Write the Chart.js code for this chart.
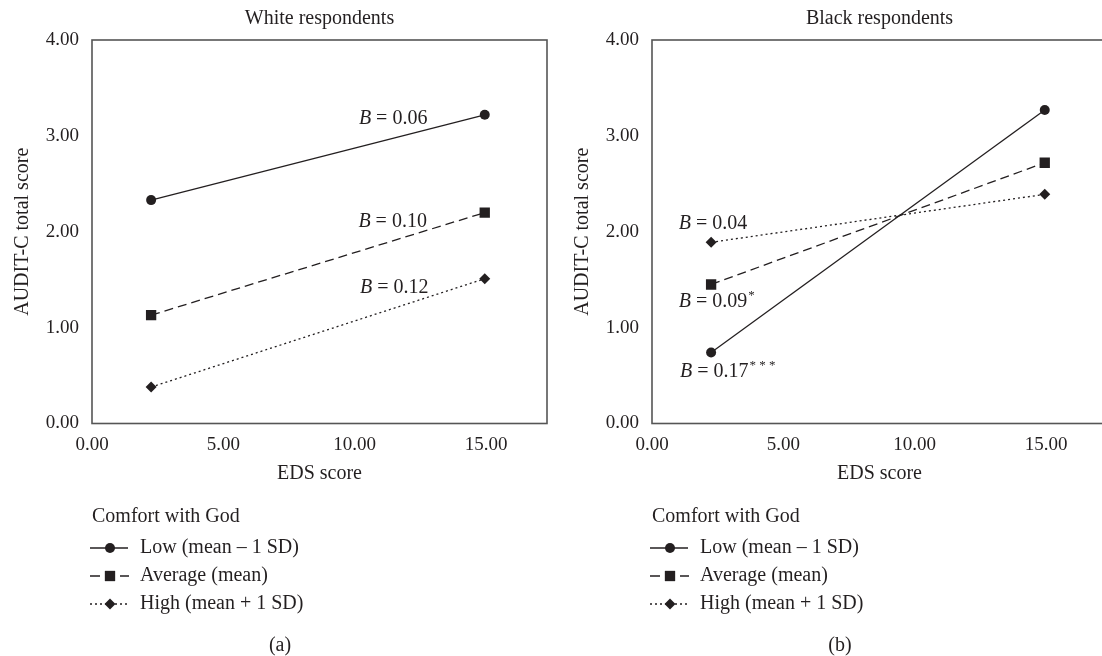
<!DOCTYPE html>
<html><head><meta charset="utf-8">
<script src="https://cdn.jsdelivr.net/npm/chart.js@4.4.1/dist/chart.umd.min.js"></script>
<style>
html,body{margin:0;padding:0;background:#fff;overflow:hidden;}
#wrap{position:relative;width:1102px;height:656px;overflow:hidden;background:#fff;}
canvas{position:absolute;top:0;}
</style></head><body>
<div id="wrap">
<canvas id="cA" width="560" height="656" style="left:0"></canvas>
<canvas id="cB" width="560" height="656" style="left:560px"></canvas>
</div>
<script>
// ---------- data ----------
const edsPoints = [2.25, 14.95];
const seriesNames = ['Low (mean \u2013 1 SD)', 'Average (mean)', 'High (mean + 1 SD)'];
const whiteLow = [2.33, 3.22];
const whiteAverage = [1.13, 2.20];
const whiteHigh = [0.38, 1.51];
const blackLow = [0.74, 3.27];
const blackAverage = [1.45, 2.72];
const blackHigh = [1.89, 2.39];
const xTickValues = [0, 5, 10, 15];
const yTickValues = [0, 1, 2, 3, 4];
const whiteSlopes = ['0.06', '0.10', '0.12'];
const whiteStars = ['', '', ''];
const blackSlopes = ['0.04', '0.09', '0.17'];
const blackStars = ['', '*', '* * *'];

// ---------- style / layout ----------
const FONT = '"Liberation Serif", "Times New Roman", serif';
const INK = '#231f20';
const FRAME = '#555555';
const X_MAX = 17.32;
const seriesStyles = [
  {dash: [], point: 'circle', radius: 5},
  {dash: [9, 5], point: 'rect', radius: 7.3},
  {dash: [2, 3], point: 'rectRot', radius: 5.5}
];
// label anchors in data units (left edge, vertical middle)
const whiteLabelPos = [[10.16, 3.18], [10.14, 2.10], [10.2, 1.42]];
const blackLabelPos = [[1.02, 2.085], [1.02, 1.27], [1.07, 0.54]];

function makeDatasets(vals) {
  return vals.map((v, i) => ({
    label: seriesNames[i],
    data: edsPoints.map((x, j) => ({x: x, y: v[j]})),
    borderColor: INK,
    borderWidth: 1.3,
    borderDash: seriesStyles[i].dash,
    pointStyle: seriesStyles[i].point,
    pointRadius: seriesStyles[i].radius,
    pointHoverRadius: seriesStyles[i].radius,
    pointBackgroundColor: INK,
    pointBorderWidth: 0,
    fill: false,
    tension: 0
  }));
}

function drawB(ctx, x, y, val, stars) {
  ctx.save();
  ctx.fillStyle = INK;
  ctx.textBaseline = 'middle';
  ctx.textAlign = 'left';
  ctx.font = 'italic 20px ' + FONT;
  ctx.fillText('B', x, y);
  let w = ctx.measureText('B').width;
  ctx.font = '20px ' + FONT;
  const s = ' = ' + val;
  ctx.fillText(s, x + w, y);
  w += ctx.measureText(s).width;
  if (stars) {
    ctx.font = '13px ' + FONT;
    ctx.fillText(stars, x + w + 1, y - 6);
  }
  ctx.restore();
}

function decorPlugin(slopes, stars, labelPos, caption) {
  return {
    id: 'decor',
    beforeDatasetsDraw(chart) {
      const {ctx, chartArea: a} = chart;
      ctx.save();
      ctx.strokeStyle = FRAME;
      ctx.lineWidth = 1.6;
      ctx.strokeRect(a.left, a.top, a.right - a.left, a.bottom - a.top);
      ctx.restore();
    },
    afterDatasetsDraw(chart) {
      const {ctx, scales} = chart;
      labelPos.forEach((p, i) => {
        drawB(ctx, scales.x.getPixelForValue(p[0]), scales.y.getPixelForValue(p[1]), slopes[i], stars[i]);
      });
    },
    afterDraw(chart) {
      const {ctx, chartArea: a} = chart;
      const lx = a.left;
      ctx.save();
      ctx.fillStyle = INK;
      ctx.textBaseline = 'middle';
      ctx.textAlign = 'left';
      ctx.font = '20px ' + FONT;
      ctx.fillText('Comfort with God', lx, 517);
      const rows = [548, 576, 604];
      chart.data.datasets.forEach((ds, i) => {
        const y = rows[i];
        ctx.strokeStyle = INK;
        ctx.lineWidth = 1.3;
        if (i === 1) {
          ctx.setLineDash([]);
          ctx.beginPath();
          ctx.moveTo(lx - 2, y); ctx.lineTo(lx + 8, y);
          ctx.moveTo(lx + 28, y); ctx.lineTo(lx + 37, y);
          ctx.stroke();
        } else {
          ctx.setLineDash(i === 2 ? [2, 3] : []);
          ctx.beginPath();
          ctx.moveTo(lx - 2, y); ctx.lineTo(lx + 36, y);
          ctx.stroke();
          ctx.setLineDash([]);
        }
        ctx.fillStyle = INK;
        Chart.helpers.drawPoint(ctx, {pointStyle: ds.pointStyle, radius: ds.pointRadius, rotation: 0, borderWidth: 0}, lx + 18, y);
        ctx.fillStyle = INK;
        ctx.fillText(ds.label, lx + 48, y);
      });
      ctx.textAlign = 'center';
      ctx.fillText(caption, chart.width / 2, 646);
      ctx.restore();
    }
  };
}

function makeChart(id, title, vals, slopes, stars, labelPos, caption) {
  return new Chart(document.getElementById(id), {
    type: 'line',
    data: {datasets: makeDatasets(vals)},
    options: {
      responsive: false,
      animation: false,
      events: [],
      layout: {padding: {left: 0, right: 13, top: 0, bottom: 170.5}},
      plugins: {
        legend: {display: false},
        tooltip: {enabled: false},
        title: {
          display: true, text: title, fullSize: false, color: INK,
          font: {family: FONT, size: 20, weight: 'normal', lineHeight: 1.2},
          padding: {top: 7, bottom: 9}
        }
      },
      scales: {
        x: {
          type: 'linear', min: 0, max: X_MAX,
          afterBuildTicks: s => { s.ticks = xTickValues.map(v => ({value: v})); },
          afterFit: s => { s.height = 62; },
          grid: {display: false, drawTicks: false},
          border: {display: false},
          ticks: {color: INK, padding: 10, maxRotation: 0, font: {family: FONT, size: 19},
                  callback: v => Number(v).toFixed(2)},
          title: {display: true, text: 'EDS score', color: INK, padding: {top: 0, bottom: 0},
                  font: {family: FONT, size: 20, lineHeight: 1.2}}
        },
        y: {
          type: 'linear', min: 0, max: 4,
          afterBuildTicks: s => { s.ticks = yTickValues.map(v => ({value: v})); },
          afterFit: s => { s.width = 92; },
          grid: {display: false, drawTicks: false},
          border: {display: false},
          ticks: {color: INK, padding: 13, font: {family: FONT, size: 19},
                  callback: v => Number(v).toFixed(2)},
          title: {display: true, text: 'AUDIT-C total score', color: INK, padding: {top: 11, bottom: 0},
                  font: {family: FONT, size: 20, lineHeight: 1.2}}
        }
      }
    },
    plugins: [decorPlugin(slopes, stars, labelPos, caption)]
  });
}

makeChart('cA', 'White respondents', [whiteLow, whiteAverage, whiteHigh], whiteSlopes, whiteStars, whiteLabelPos, '(a)');
makeChart('cB', 'Black respondents', [blackLow, blackAverage, blackHigh], blackSlopes, blackStars, blackLabelPos, '(b)');
</script>
</body></html>
